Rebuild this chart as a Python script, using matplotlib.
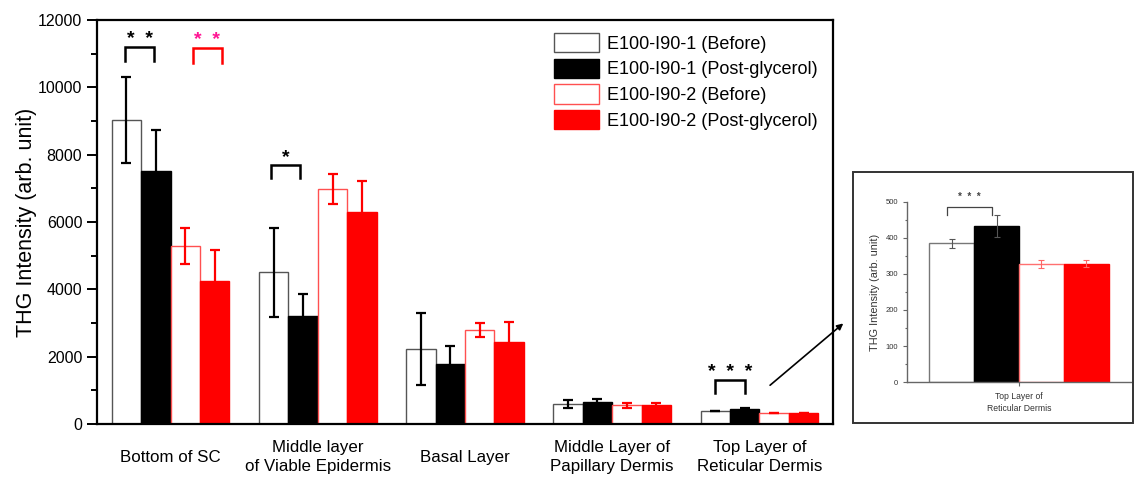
"""THG intensity per skin layer, before vs post-glycerol, with inset."""

import matplotlib
matplotlib.use("Agg")
import matplotlib.pyplot as plt
import matplotlib.transforms as mtransforms
from matplotlib.patches import Rectangle, FancyArrowPatch
from matplotlib.ticker import MultipleLocator
import numpy as np

plt.rcParams["font.family"] = ["Liberation Sans", "DejaVu Sans"]

# data
categories = ["Bottom of SC", "Middle layer\nof Viable Epidermis", "Basal Layer",
              "Middle Layer of\nPapillary Dermis", "Top Layer of\nReticular Dermis"]
series_labels = ["E100-I90-1 (Before)", "E100-I90-1 (Post-glycerol)",
                 "E100-I90-2 (Before)", "E100-I90-2 (Post-glycerol)"]
before1 = [9030, 4510, 2230, 594, 385]
before1_err = [1270, 1320, 1060, 120, 13]
post1 = [7520, 3220, 1780, 653, 433]
post1_err = [1200, 640, 550, 100, 30]
before2 = [5290, 6990, 2790, 554, 327]
before2_err = [540, 440, 220, 75, 11]
post2 = [4250, 6300, 2440, 554, 329]
post2_err = [910, 930, 590, 70, 10]

# significance brackets: (group, bar_a, bar_b, top, leg_bottom, stars, colour, star colour, dx)
brackets = [
    (0, 0, 1, 11200, 10780, "*  *", "black", "black", -0.01),
    (0, 2, 3, 11160, 10720, "*  *", "red", "#ff1493", 0.05),
    (1, 0, 1, 7690, 7300, "*", "black", "black", -0.02),
    (4, 0, 1, 1310, 920, "*  *  *", "black", "black", 0.0),
]

values = [before1, post1, before2, post2]
errors = [before1_err, post1_err, before2_err, post2_err]
faces = ["white", "black", "white", "red"]
edges = ["#555555", "black", "#ff5050", "red"]
err_cols = ["black", "black", "red", "red"]

width = 0.2
offsets = (np.arange(4) - 1.5) * width

fig = plt.figure(figsize=(11.34, 4.79), dpi=100)
ax = fig.add_axes([0.0855, 0.1148, 0.6491, 0.8434])

x = np.arange(len(categories))
handles = []
for k in range(4):
    b = ax.bar(x + offsets[k], values[k], width, color=faces[k], edgecolor=edges[k],
               linewidth=1.0, label=series_labels[k], zorder=2)
    ax.errorbar(x + offsets[k], values[k], yerr=errors[k], fmt="none", ecolor=err_cols[k],
                elinewidth=1.6, capsize=3.6, capthick=1.6, zorder=3)
    handles.append(b)

ax.set_xlim(-0.5, len(categories) - 0.5)
ax.set_ylim(0, 12000)
ax.yaxis.set_major_locator(MultipleLocator(2000))
ax.yaxis.set_minor_locator(MultipleLocator(1000))
ax.set_xticks([])
ax.tick_params(axis="y", which="major", direction="out", length=7, width=1.4, labelsize=11.5)
ax.tick_params(axis="y", which="minor", direction="out", length=4, width=1.4)
for sp in ax.spines.values():
    sp.set_linewidth(1.6)
ax.set_ylabel("THG Intensity (arb. unit)", fontsize=15.5, labelpad=1)

trans = mtransforms.blended_transform_factory(ax.transData, ax.transAxes)
for i, cat in enumerate(categories):
    ax.text(i, -0.082, cat, transform=trans, ha="center", va="center",
            fontsize=12.2, linespacing=1.3)

for g, a, b_, top, bot, stars, col, scol, dx in brackets:
    xa = g + offsets[a] + dx
    xb = g + offsets[b_] + dx
    ax.plot([xa, xa, xb, xb], [bot, top, top, bot], color=col, lw=1.8,
            solid_joinstyle="miter", zorder=4)
    ax.text((xa + xb) / 2, top + 100, stars, ha="center", va="baseline",
            color=scol, fontsize=14, fontweight="bold")

ax.legend(handles=handles, loc="upper left", bbox_to_anchor=(0.621, 0.968),
          frameon=False, fontsize=13, handlelength=2.5, handleheight=1.25,
          handletextpad=0.45, labelspacing=0.34, borderpad=0, borderaxespad=0)

# inset frame
fig.patches.append(Rectangle((0.7522, 0.1169), 0.2469, 0.524, transform=fig.transFigure,
                             fill=False, edgecolor="#333333", linewidth=1.4))

# arrow from the last group to the inset
fig.add_artist(FancyArrowPatch(
    (0.6772, 0.192), (0.7455, 0.3285), transform=fig.transFigure,
    arrowstyle="-|>", mutation_scale=9, color="black", lw=1.2))

# inset
ins = fig.add_axes([0.7998, 0.2025, 0.1976, 0.3758])
g = len(categories) - 1
in_edges = ["#777777", "black", "#ff7070", "red"]
in_err = ["#555555", "#555555", "#ff6666", "#ff6666"]
for k in range(4):
    ins.bar(offsets[k], values[k][g], width, color=faces[k], edgecolor=in_edges[k],
            linewidth=1.0, zorder=2)
    ins.errorbar(offsets[k], values[k][g], yerr=errors[k][g], fmt="none",
                 ecolor=in_err[k], elinewidth=0.8, capsize=2, capthick=0.8, zorder=3)
ins.set_xlim(-0.5, 0.5)
ins.set_ylim(0, 500)
ins.yaxis.set_major_locator(MultipleLocator(100))
ins.yaxis.set_minor_locator(MultipleLocator(50))
ins.set_xticks([0])
ins.set_xticklabels([categories[g]], fontsize=6.2, color="#333333", linespacing=1.5)
ins.tick_params(axis="both", which="major", direction="out", length=3, width=0.8,
                color="#666666", labelsize=5.5, labelcolor="#333333")
ins.tick_params(axis="x", labelsize=6.2, pad=4)
ins.tick_params(axis="y", which="minor", direction="out", length=1.5, width=0.8,
                color="#666666")
ins.spines["top"].set_visible(False)
ins.spines["right"].set_visible(False)
for s in ("left", "bottom"):
    ins.spines[s].set_color("#666666")
    ins.spines[s].set_linewidth(1.0)
ins.set_ylabel("THG Intensity (arb. unit)", fontsize=7.8, color="#333333", labelpad=4)

xa = offsets[0] - 0.02
xb = offsets[1] - 0.02
ins.plot([xa, xa, xb, xb], [464, 486, 486, 464], color="#444444", lw=0.9, clip_on=False)
ins.text((xa + xb) / 2, 505, "*  *  *", ha="center", va="baseline", fontsize=7,
         color="#444444", fontweight="bold", clip_on=False)

fig.savefig("out.png", dpi=100)
